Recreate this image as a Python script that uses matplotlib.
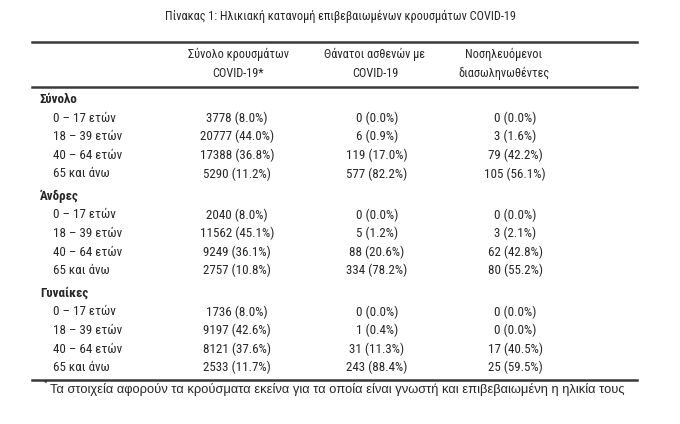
import matplotlib
matplotlib.use('Agg')
from matplotlib import pyplot as plt

plt.rcParams['font.family'] = ['Roboto Condensed', 'Roboto', 'DejaVu Sans']

TXT = '#262626'
LINE = '#3a3a3a'

title = 'Πίνακας 1: Ηλικιακή κατανομή επιβεβαιωμένων κρουσμάτων COVID-19'
col_headers = ['Σύνολο κρουσμάτων\nCOVID-19*', 'Θάνατοι ασθενών με\nCOVID-19', 'Νοσηλευόμενοι\nδιασωληνωθέντες']
groups = ['Σύνολο', 'Άνδρες', 'Γυναίκες']
ages = ['0 – 17 ετών', '18 – 39 ετών', '40 – 64 ετών', '65 και άνω']
footnote = 'Τα στοιχεία αφορούν τα κρούσματα εκείνα για τα οποία είναι γνωστή και επιβεβαιωμένη η ηλικία τους'

# Σύνολο
cases_total = [3778, 20777, 17388, 5290]
cases_total_pct = [8.0, 44.0, 36.8, 11.2]
deaths_total = [0, 6, 119, 577]
deaths_total_pct = [0.0, 0.9, 17.0, 82.2]
icu_total = [0, 3, 79, 105]
icu_total_pct = [0.0, 1.6, 42.2, 56.1]

# Άνδρες
cases_men = [2040, 11562, 9249, 2757]
cases_men_pct = [8.0, 45.1, 36.1, 10.8]
deaths_men = [0, 5, 88, 334]
deaths_men_pct = [0.0, 1.2, 20.6, 78.2]
icu_men = [0, 3, 62, 80]
icu_men_pct = [0.0, 2.1, 42.8, 55.2]

# Γυναίκες
cases_women = [1736, 9197, 8121, 2533]
cases_women_pct = [8.0, 42.6, 37.6, 11.7]
deaths_women = [0, 1, 31, 243]
deaths_women_pct = [0.0, 0.4, 11.3, 88.4]
icu_women = [0, 0, 17, 25]
icu_women_pct = [0.0, 0.0, 40.5, 59.5]

W, H = 680, 424
fig = plt.figure(figsize=(W / 100, H / 100), dpi=100)
ax = fig.add_axes([0, 0, 1, 1])
ax.set_xlim(0, W)
ax.set_ylim(H, 0)
ax.axis('off')

fs = 8.8
fs_row = 9.4
col_x = [237, 377, 515]
head_x = [238, 375, 504]

ax.text(340, 16, title, ha='center', va='center', fontsize=fs, color=TXT)
ax.plot([32, 637], [42, 42], color=LINE, lw=1.8)
ax.plot([32, 637], [87, 87], color=LINE, lw=1.8)
for x, h in zip(head_x, col_headers):
    ax.text(x, 64, h, ha='center', va='center', fontsize=fs, color=TXT, linespacing=1.65)

blocks = [
    (cases_total, cases_total_pct, deaths_total, deaths_total_pct, icu_total, icu_total_pct),
    (cases_men, cases_men_pct, deaths_men, deaths_men_pct, icu_men, icu_men_pct),
    (cases_women, cases_women_pct, deaths_women, deaths_women_pct, icu_women, icu_women_pct),
]

y = 99.5
step = 18.6
for g, blk in zip(groups, blocks):
    ax.text(40, y, g, ha='left', va='center', fontsize=fs_row, color=TXT, fontweight='bold')
    for i, a in enumerate(ages):
        y += step
        ax.text(53, y, a, ha='left', va='center', fontsize=fs_row, color=TXT)
        for k in range(3):
            vals, pcts = blk[2 * k], blk[2 * k + 1]
            ax.text(col_x[k], y, f'{vals[i]} ({pcts[i]:.1f}%)', ha='center', va='center',
                    fontsize=fs_row, color=TXT)
    y += 22.5

ax.plot([32, 637], [380, 380], color=LINE, lw=1.8)
ax.text(44, 383.5, '*', ha='left', va='center', fontsize=6.5, color=TXT,
        family=['Liberation Sans', 'DejaVu Sans'])
ax.text(50, 390, footnote, ha='left', va='center', fontsize=9.3, color=TXT,
        family=['Liberation Sans', 'DejaVu Sans'])

fig.savefig('out.png', dpi=100, facecolor='white')
